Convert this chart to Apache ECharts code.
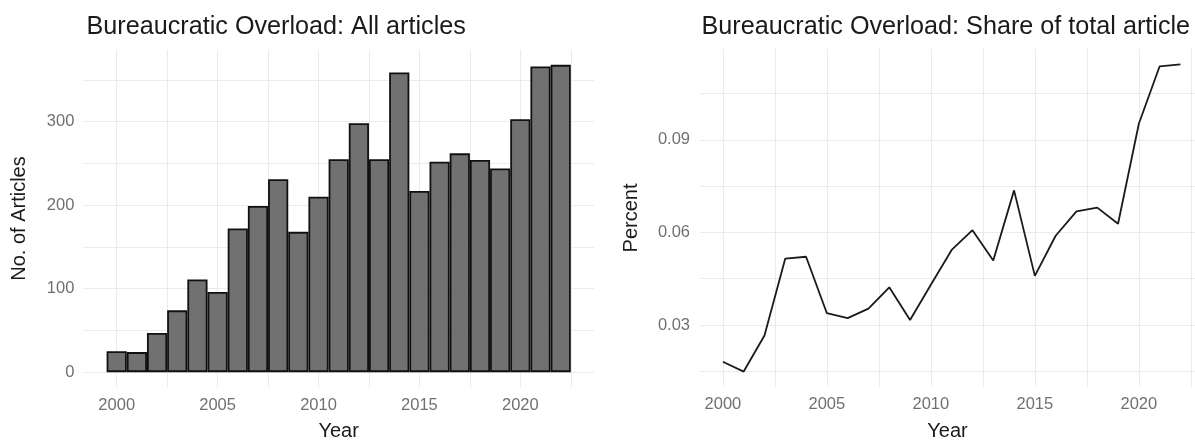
<!DOCTYPE html>
<html>
<head>
<meta charset="utf-8">
<script src="https://cdn.jsdelivr.net/npm/echarts@6/dist/echarts.min.js"></script>
<style>
  html, body { margin: 0; padding: 0; background: #ffffff; }
  #chart { width: 1195px; height: 441px; }
</style>
</head>
<body>
<div id="chart"></div>
<script>
// ---- data ----
const years = [2000, 2001, 2002, 2003, 2004, 2005, 2006, 2007, 2008, 2009, 2010, 2011,
               2012, 2013, 2014, 2015, 2016, 2017, 2018, 2019, 2020, 2021, 2022];
const articleCounts = [25, 24, 47, 74, 111, 96, 172, 199, 231, 168, 210, 255,
                       298, 255, 359, 217, 252, 262, 254, 244, 303, 366, 368];
const shareValues = [0.0181, 0.0149, 0.0266, 0.0515, 0.0521, 0.0338, 0.0322, 0.0353,
                     0.0422, 0.0316, 0.0430, 0.0543, 0.0607, 0.0509, 0.0736, 0.0459,
                     0.0589, 0.0668, 0.0680, 0.0628, 0.0952, 0.1138, 0.1144];

const yearTickLabels = [2000, 2005, 2010, 2015, 2020];
const yearGridValues = [2000, 2002.5, 2005, 2007.5, 2010, 2012.5, 2015, 2017.5, 2020, 2022.5];
const countTickLabels = [0, 100, 200, 300];
const countGridValues = [0, 50, 100, 150, 200, 250, 300, 350];
const shareTickLabels = [0.03, 0.06, 0.09];
const shareGridValues = [0.015, 0.03, 0.045, 0.06, 0.075, 0.09, 0.105];

// the reference image is cropped at its right edge, so the second title reads "article"
const titleLeft = 'Bureaucratic Overload: All articles';
const titleRight = 'Bureaucratic Overload: Share of total article';

// ---- styling ----
const FONT = 'Liberation Sans, Arial, Helvetica, sans-serif';
const gridLineColor = '#ebebeb';
const tickColor = '#707070';
const titleColor = '#1a1a1a';

function xAxisFor(gridIndex, min, max) {
  return {
    type: 'value', gridIndex, min, max,
    axisLine: { show: false },
    axisTick: { show: false, customValues: yearGridValues },
    axisLabel: { customValues: yearTickLabels, color: tickColor, fontSize: 16.5,
                 fontFamily: FONT, margin: 9, formatter: v => String(v) },
    splitLine: { show: true, lineStyle: { color: gridLineColor, width: 1 } },
    name: 'Year', nameLocation: 'middle', nameGap: 34,
    nameTextStyle: { color: titleColor, fontSize: 20, fontFamily: FONT }
  };
}

const series = [
  {
    type: 'bar', xAxisIndex: 0, yAxisIndex: 0,
    data: years.map((y, i) => [y, articleCounts[i]]),
    barWidth: 20.2,
    itemStyle: { color: '#717171', borderColor: '#111111', borderWidth: 1.8 },
    silent: true
  },
  {
    type: 'line', xAxisIndex: 1, yAxisIndex: 1,
    data: years.map((y, i) => [y, shareValues[i]]),
    showSymbol: false,
    lineStyle: { color: '#1a1a1a', width: 1.8 },
    silent: true
  }
];

const option = {
  animation: false,
  backgroundColor: '#ffffff',
  title: [
    { text: titleLeft, left: 81.5, top: 10,
      textStyle: { fontSize: 25.2, fontWeight: 'normal', color: titleColor, fontFamily: FONT } },
    { text: titleRight, left: 696.5, top: 10,
      textStyle: { fontSize: 25.2, fontWeight: 'normal', color: titleColor, fontFamily: FONT } }
  ],
  grid: [
    { left: 83.4, width: 510.6, top: 49.5, height: 338, outerBoundsMode: 'none', containLabel: false },
    { left: 700, right: 0, top: 49, height: 338, outerBoundsMode: 'none', containLabel: false }
  ],
  xAxis: [
    xAxisFor(0, 1998.35, 2023.65),
    xAxisFor(1, 1998.9, 2022.7)
  ],
  yAxis: [
    {
      type: 'value', gridIndex: 0, min: -18.4, max: 386.4,
      axisLine: { show: false },
      axisTick: { show: false, customValues: countGridValues },
      axisLabel: { customValues: countTickLabels, color: tickColor, fontSize: 16.5,
                   fontFamily: FONT, margin: 9, formatter: v => String(v) },
      splitLine: { show: true, lineStyle: { color: gridLineColor, width: 1 } },
      name: 'No. of Articles', nameLocation: 'middle', nameGap: 54,
      nameTextStyle: { color: titleColor, fontSize: 20, fontFamily: FONT }
    },
    {
      type: 'value', gridIndex: 1, min: 0.0099, max: 0.1194,
      axisLine: { show: false },
      axisTick: { show: false, customValues: shareGridValues },
      axisLabel: { customValues: shareTickLabels, color: tickColor, fontSize: 16.5,
                   fontFamily: FONT, margin: 10, formatter: v => v.toFixed(2) },
      splitLine: { show: true, lineStyle: { color: gridLineColor, width: 1 } },
      name: 'Percent', nameLocation: 'middle', nameGap: 59,
      nameTextStyle: { color: titleColor, fontSize: 20, fontFamily: FONT }
    }
  ],
  series
};

const chart = echarts.init(document.getElementById('chart'), null, { renderer: 'canvas' });
chart.setOption(option);
</script>
</body>
</html>
